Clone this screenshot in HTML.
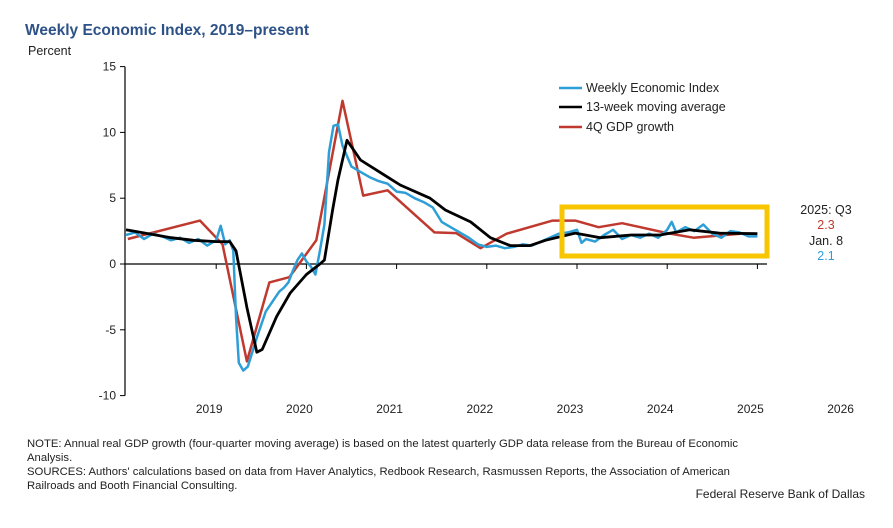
<!DOCTYPE html>
<html><head><meta charset="utf-8"><style>
body{margin:0;background:#fff;width:893px;height:528px;overflow:hidden;font-family:"Liberation Sans",Arial,sans-serif}
svg{position:absolute;left:0;top:0}
</style></head><body>
<svg id="chart" width="893" height="528" xmlns="http://www.w3.org/2000/svg" font-family="Liberation Sans, Arial, sans-serif">
<text x="25" y="35" font-size="15.5" font-weight="bold" fill="#2e5287">Weekly Economic Index, 2019–present</text>
<text x="28" y="55" font-size="12.5" fill="#222">Percent</text>
<g id="axes"></g>
<g id="series"></g>
<rect x="562" y="207" width="205" height="49" fill="none" stroke="#f7c600" stroke-width="5"/>
<g font-size="12.5" fill="#222">
<line x1="559" y1="88" x2="582" y2="88" stroke="#2e9fd6" stroke-width="2.5"/>
<text x="586" y="92">Weekly Economic Index</text>
<line x1="559" y1="107" x2="582" y2="107" stroke="#000" stroke-width="2.5"/>
<text x="586" y="111">13-week moving average</text>
<line x1="559" y1="127" x2="582" y2="127" stroke="#c0392f" stroke-width="2.5"/>
<text x="586" y="131">4Q GDP growth</text>
</g>
<g font-size="12.5" text-anchor="middle">
<text x="826" y="214" fill="#222">2025: Q3</text>
<text x="826" y="229" fill="#c0392f">2.3</text>
<text x="826" y="245" fill="#222">Jan. 8</text>
<text x="826" y="260" fill="#2e9fd6">2.1</text>
</g>
<g font-size="11.3" fill="#222">
<text x="27" y="447">NOTE: Annual real GDP growth (four-quarter moving average) is based on the latest quarterly GDP data release from the Bureau of Economic</text>
<text x="27" y="461">Analysis.</text>
<text x="27" y="475">SOURCES: Authors' calculations based on data from Haver Analytics, Redbook Research, Rasmussen Reports, the Association of American</text>
<text x="27" y="489">Railroads and Booth Financial Consulting.</text>
<text x="865" y="498" text-anchor="end" font-size="12">Federal Reserve Bank of Dallas</text>
</g>
</svg>
<script>
const yTicks=[15,10,5,0,-5,-10];
const yearLabels=[2019,2020,2021,2022,2023,2024,2025,2026];
const weiT=[2018.0,2018.1,2018.2,2018.3,2018.4,2018.5,2018.6,2018.7,2018.8,2018.9,2019.0,2019.05,2019.1,2019.15,2019.19,2019.22,2019.25,2019.3,2019.35,2019.4,2019.45,2019.5,2019.55,2019.6,2019.65,2019.7,2019.75,2019.8,2019.85,2019.9,2019.95,2020.0,2020.05,2020.1,2020.15,2020.2,2020.25,2020.3,2020.35,2020.4,2020.45,2020.5,2020.6,2020.7,2020.8,2020.9,2021.0,2021.1,2021.2,2021.3,2021.4,2021.5,2021.6,2021.7,2021.8,2021.9,2022.0,2022.1,2022.2,2022.3,2022.4,2022.5,2022.6,2022.7,2022.8,2022.9,2023.0,2023.05,2023.1,2023.2,2023.3,2023.4,2023.5,2023.6,2023.7,2023.8,2023.9,2024.0,2024.05,2024.1,2024.2,2024.3,2024.4,2024.5,2024.6,2024.7,2024.8,2024.9,2025.0];
const weiV=[2.2,2.4,1.9,2.3,2.1,1.8,2.0,1.6,1.9,1.4,1.8,2.9,1.5,1.8,1.0,-4,-7.5,-8.1,-7.8,-6.7,-5.6,-4.6,-3.6,-3.1,-2.6,-2.1,-1.8,-1.4,-0.5,0.3,0.8,0.2,-0.2,-0.8,1.0,3.0,8.5,10.5,10.6,9.0,8.2,7.4,7.0,6.6,6.3,6.1,5.5,5.4,5.0,4.7,4.3,3.2,2.8,2.4,2.0,1.5,1.3,1.4,1.2,1.3,1.5,1.4,1.7,2.0,2.3,2.4,2.6,1.6,1.9,1.7,2.2,2.6,1.9,2.2,2.0,2.3,2.0,2.6,3.2,2.4,2.8,2.5,3.0,2.3,2.0,2.5,2.4,2.1,2.1];
const maT=[2018.0,2018.25,2018.5,2018.75,2019.0,2019.15,2019.22,2019.34,2019.45,2019.51,2019.67,2019.82,2020.0,2020.15,2020.2,2020.29,2020.35,2020.45,2020.6,2021.04,2021.37,2021.54,2021.82,2022.04,2022.26,2022.48,2022.65,2022.98,2023.26,2023.6,2023.92,2024.25,2024.58,2025.0];
const maV=[2.6,2.3,2.0,1.8,1.7,1.7,1.0,-3.3,-6.7,-6.5,-4.0,-2.2,-0.8,0,0.3,4.1,6.4,9.4,7.9,6.0,5.0,4.1,3.2,2.0,1.4,1.4,1.8,2.35,2.0,2.2,2.2,2.6,2.35,2.3];
const gdpT=[2018.02,2018.82,2019.07,2019.34,2019.59,2019.81,2020.11,2020.4,2020.63,2020.9,2021.42,2021.66,2021.93,2022.22,2022.73,2022.98,2023.24,2023.5,2024.0,2024.29,2024.81];
const gdpV=[1.9,3.3,1.5,-7.4,-1.4,-1.0,1.8,12.4,5.2,5.6,2.4,2.35,1.2,2.3,3.3,3.3,2.8,3.1,2.35,2.0,2.3];
const NS="http://www.w3.org/2000/svg";
const xS=t=>126+90.2*(t-2018);
const yS=v=>264-13.16*v;
function mk(tag,attrs,parent){const e=document.createElementNS(NS,tag);for(const k in attrs)e.setAttribute(k,attrs[k]);parent.appendChild(e);return e;}
const ax=document.getElementById('axes');
const yl=mk('line',{x1:125,y1:yS(15),x2:125,y2:yS(-10),stroke:'#000','stroke-width':1.2},ax);


const zl=mk('line',{x1:125,y1:yS(0),x2:767,y2:yS(0),stroke:'#000','stroke-width':1.2},ax);


yTicks.forEach(v=>{
  mk('line',{x1:120,y1:yS(v),x2:125,y2:yS(v),stroke:'#000'},ax);
  const t=mk('text',{x:116,y:yS(v)+4,'text-anchor':'end','font-size':12,fill:'#222'},ax);
  t.textContent=v;
  
  
});
yearLabels.forEach(yr=>{
  const x=xS(yr);
  if(yr<2026) mk('line',{x1:x,y1:yS(0),x2:x,y2:yS(0)+5,stroke:'#000'},ax);
  const t=mk('text',{x:x-7,y:413,'text-anchor':'middle','font-size':12,fill:'#222'},ax);
  t.textContent=yr;
  
  
});
const sg=document.getElementById('series');
function line(T,V,color,w,name){
  const d=T.map((t,i)=>(i?'L':'M')+xS(t).toFixed(1)+' '+yS(V[i]).toFixed(1)).join(' ');
  const p=mk('path',{d:d,fill:'none',stroke:color,'stroke-width':w,'stroke-linejoin':'round'},sg);
  
  
}
line(gdpT,gdpV,'#c0392f',2.5,'gdp-growth-line');
line(weiT,weiV,'#2e9fd6',2.5,'wei-line');
line(maT,maV,'#000',2.8,'moving-average-line');
</script>
</body></html>
